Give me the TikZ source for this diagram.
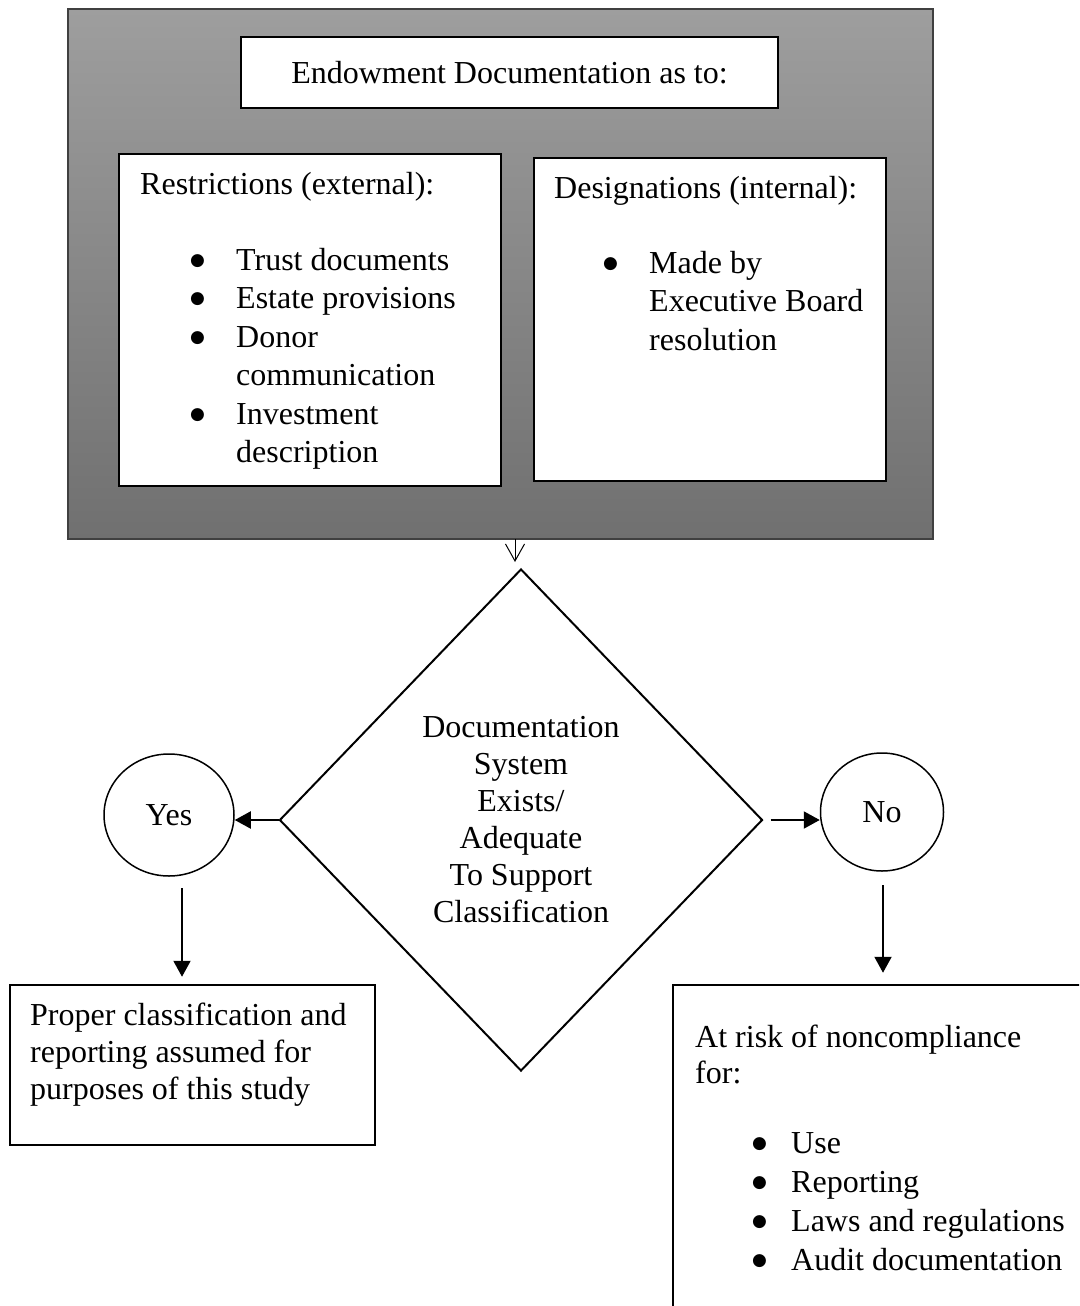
\documentclass[tikz,border=0pt]{standalone}
\usepackage{fontspec}
\setmainfont{Liberation Serif}
\newfontfamily\symfont{DejaVu Sans}
\usetikzlibrary{arrows.meta,shapes.geometric}
\definecolor{shadetop}{HTML}{9E9E9E}
\definecolor{shadebot}{HTML}{707070}
\tikzset{
  box/.style={draw,line width=2.5pt,fill=white,inner sep=0pt},
  txt/.style={anchor=north west,inner sep=0pt,align=left,font=\fontsize{32}{37}\selectfont},
  lst/.style={txt,font=\fontsize{32}{38.5}\selectfont},
  arr/.style={line width=2pt,-{Triangle[length=16pt,width=17pt]}},
  thinarr/.style={line width=1pt,-{Straight Barb[length=17pt,width=19pt]}},
}
\newcommand{\bul}[1]{\makebox[#1][l]{\raisebox{5pt}{\symfont\fontsize{17}{17}\selectfont ●}}}
\begin{document}
\begin{tikzpicture}[x=1pt,y=-1pt]
  \useasboundingbox (0,0) rectangle (1079,1306);
  \clip (0,0) rectangle (1079,1306);
  % top block
  \node[draw=black!75,line width=1.5pt,top color=shadetop,bottom color=shadebot,
        minimum width=865pt,minimum height=530pt,inner sep=0pt] (outer) at (500.5,274) {};
  \node[box,minimum width=537pt,minimum height=71pt,font=\fontsize{32}{37}\selectfont]
        (title) at (509.5,72.5) {Endowment Documentation as to:};
  \node[box,minimum width=382pt,minimum height=332pt] (restr) at (310,319.75) {};
  \node[box,minimum width=352pt,minimum height=323pt] (desig) at (710,319.5) {};
  \node[txt] (restrhead) at (140,168) {\strut Restrictions (external):};
  \node[lst] (restrlist) at (190,243) {\strut\bul{46pt}Trust documents\\
    \bul{46pt}Estate provisions\\
    \bul{46pt}Donor\\
    \hspace*{46pt}communication\\
    \bul{46pt}Investment\\
    \hspace*{46pt}description};
  \node[txt] (desighead) at (554,172) {\strut Designations (internal):};
  \node[lst] (desiglist) at (603,246) {\strut\bul{46pt}Made by\\
    \hspace*{46pt}Executive Board\\
    \hspace*{46pt}resolution};
  % decision
  \node[diamond,draw,line width=2pt,inner sep=0pt,minimum width=483pt,minimum height=502pt,
        align=center,font=\fontsize{32}{37}\selectfont] (diam) at (521,820)
        {Documentation\\System\\Exists/\\Adequate\\To Support\\Classification};
  \coordinate (topin) at (515,539);
  \draw[thinarr,shorten >=6pt] (topin) -- (topin |- diam.north);
  \node[ellipse,draw,line width=1.5pt,minimum width=130pt,minimum height=122pt,inner sep=0pt,
        font=\fontsize{32}{37}\selectfont] (yes) at (169,815) {Yes};
  \node[ellipse,draw,line width=1.5pt,minimum width=123pt,minimum height=118pt,inner sep=0pt,
        font=\fontsize{32}{37}\selectfont] (no) at (882,812) {No};
  \draw[arr] (diam.west) -- (diam.west -| yes.east);
  \draw[arr,shorten <=7pt] (diam.east) -- (diam.east -| no.west);
  % outcomes
  \node[box,minimum width=365pt,minimum height=160pt] (proper) at (192.5,1065) {};
  \node[txt] (propertxt) at (30,999) {\strut Proper classification and\\
    reporting assumed for\\
    purposes of this study};
  \node[box,minimum width=420pt,minimum height=340pt] (risk) at (883,1155) {};
  \node[txt,font=\fontsize{32}{36.5}\selectfont] (riskhead) at (695,1021.5)
        {\strut At risk of noncompliance\\for:};
  \node[txt,font=\fontsize{32}{39}\selectfont] (risklist) at (752,1125.7)
        {\strut\bul{39pt}Use\\
    \bul{39pt}Reporting\\
    \bul{39pt}Laws and regulations\\
    \bul{39pt}Audit documentation};
  \coordinate (yesdown) at (182,888);
  \coordinate (nodown) at (883,885);
  \draw[arr,shorten >=7pt] (yesdown) -- (yesdown |- proper.north);
  \draw[arr,shorten >=11pt] (nodown) -- (nodown |- risk.north);
\end{tikzpicture}
\end{document}
